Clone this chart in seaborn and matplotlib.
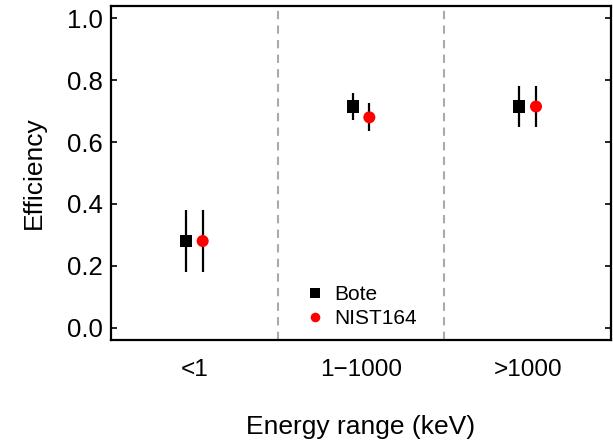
import matplotlib
matplotlib.use("Agg")
import matplotlib.pyplot as plt
import seaborn as sns
import numpy as np
import pandas as pd

categories = ["<1", "1\u22121000", ">1000"]
series = ["Bote", "NIST164"]
bote_vals = [0.28, 0.715, 0.715]
bote_err = [0.10, 0.043, 0.065]
nist_vals = [0.28, 0.68, 0.715]
nist_err = [0.10, 0.045, 0.065]
yticks = [0.0, 0.2, 0.4, 0.6, 0.8, 1.0]

sns.set_theme(style="white")
plt.rcParams['font.family'] = ['Liberation Sans', 'DejaVu Sans']
plt.rcParams['text.color'] = 'black'
plt.rcParams['axes.labelcolor'] = 'black'
plt.rcParams['xtick.color'] = 'black'
plt.rcParams['ytick.color'] = 'black'

rows = []
for i, c in enumerate(categories):
    rows.append(dict(cat=c, idx=i, series="Bote", val=bote_vals[i], err=bote_err[i]))
    rows.append(dict(cat=c, idx=i, series="NIST164", val=nist_vals[i], err=nist_err[i]))
df = pd.DataFrame(rows)
offset = {"Bote": -0.05, "NIST164": 0.05}
df["x"] = df["idx"] + df["series"].map(offset)

fig = plt.figure(figsize=(6.13, 4.45), dpi=100)
ax = fig.add_axes([111/613, 1 - 340/445, 500/613, 334/445])

for x in [0.5, 1.5]:
    ax.axvline(x, color="#aaaaaa", ls=(0, (4, 3)), lw=1.5, zorder=0)

ax.errorbar(df["x"], df["val"], yerr=df["err"], fmt="none", ecolor="black",
            elinewidth=1.6, capsize=0, zorder=2)

sns.scatterplot(data=df, x="x", y="val", hue="series", style="series",
                palette={"Bote": "black", "NIST164": "#ff0000"},
                markers={"Bote": "s", "NIST164": "o"},
                s=75, edgecolor="none", linewidth=0, ax=ax, zorder=3, legend=True)

ax.set_xlim(-0.5, 2.5)
ax.set_ylim(-0.04, 1.04)
ax.set_xticks(range(len(categories)))
ax.set_xticklabels(categories)
ax.set_yticks(yticks)
ax.set_yticklabels([f"{t:.1f}" for t in yticks])
ax.tick_params(axis="x", length=0, labelsize=17.5, pad=14)
ax.tick_params(axis="y", direction="in", length=4, width=1.2, labelsize=18.5,
               right=True, left=True, pad=6)
for s in ax.spines.values():
    s.set_color("black")
    s.set_linewidth(1.6)

ax.set_xlabel("Energy range (keV)", fontsize=19, labelpad=24)
ax.set_ylabel("Efficiency", fontsize=19, labelpad=15)

h, l = ax.get_legend_handles_labels()
leg = ax.legend(h, l, loc="center left", bbox_to_anchor=(0.363, 0.10), frameon=False,
                fontsize=15, handletextpad=0.3, labelspacing=0.25, markerscale=0.8,
                borderpad=0, handlelength=1.2)

fig.savefig("out.png", dpi=100)
